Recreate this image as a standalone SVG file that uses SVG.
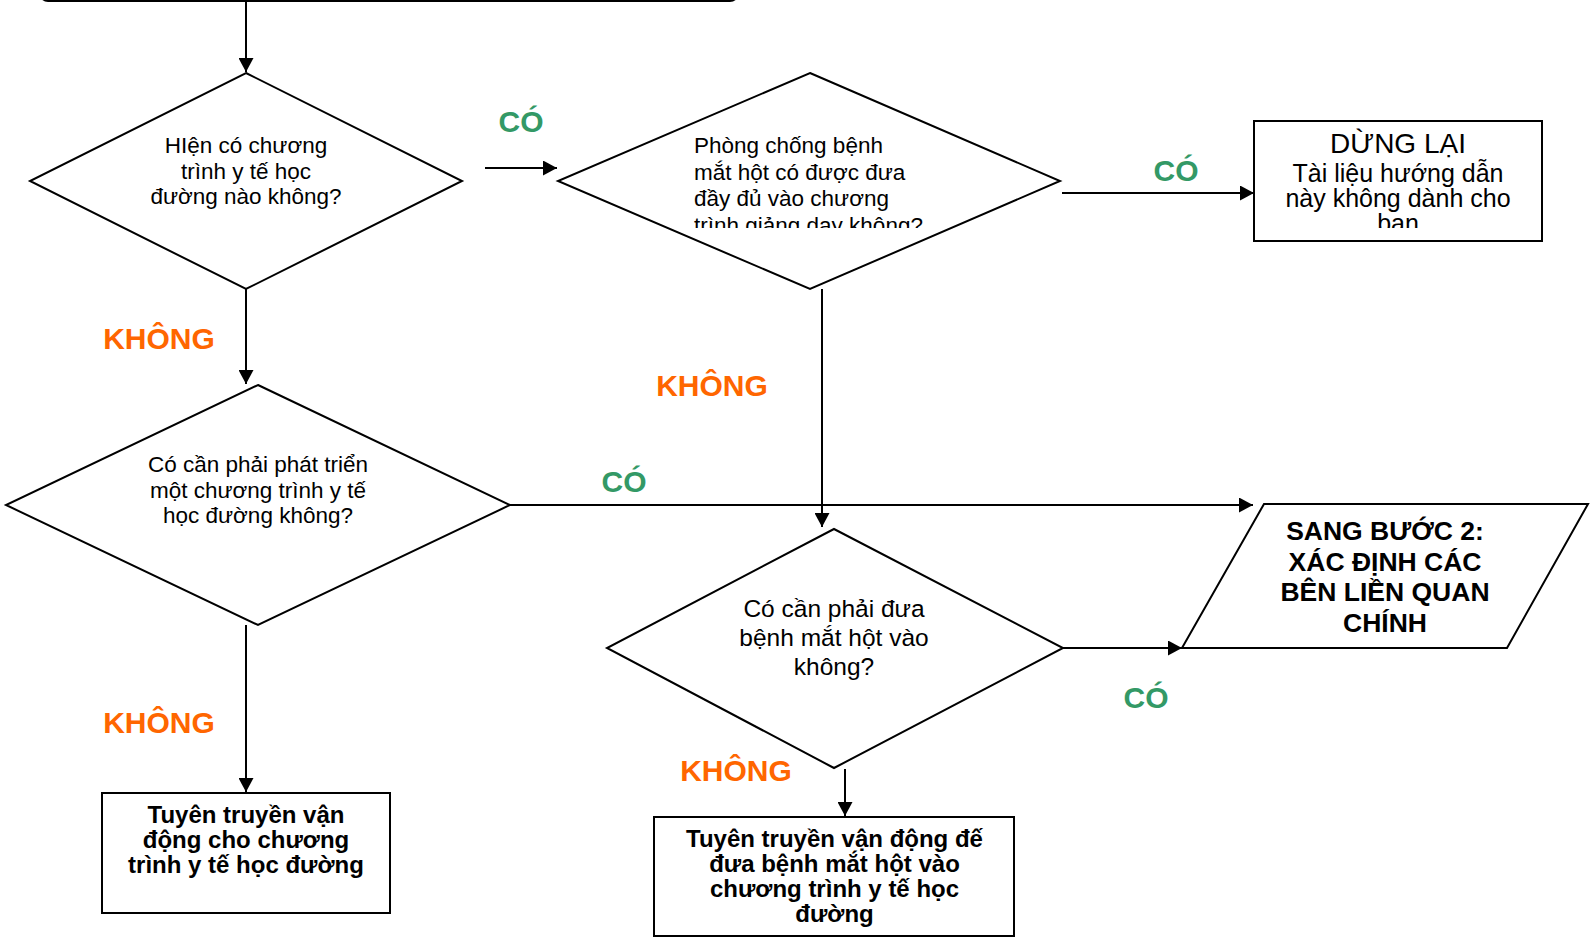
<svg xmlns="http://www.w3.org/2000/svg" width="1590" height="938" viewBox="0 0 1590 938">
<style>
.shape{fill:#fff;stroke:#000;stroke-width:2}
.conn{fill:none;stroke:#000;stroke-width:2}
.t{font-family:"Liberation Sans",Arial,sans-serif;fill:#000}
.q{font-size:22.5px}
.b{font-weight:bold}
.yes{font-family:"Liberation Sans",Arial,sans-serif;font-weight:bold;font-size:30px;fill:#339966;text-anchor:middle}
.no{font-family:"Liberation Sans",Arial,sans-serif;font-weight:bold;font-size:30px;fill:#FF6600;text-anchor:middle}
</style>
<defs>
<marker id="arr" markerUnits="userSpaceOnUse" markerWidth="15" markerHeight="15" refX="14" refY="7.5" orient="auto">
<path d="M0,0 L14,7.5 L0,15 z" fill="#000"/>
</marker>
<clipPath id="clipD2"><rect x="560" y="100" width="500" height="128"/></clipPath>
<clipPath id="clipStop"><rect x="1256" y="122" width="284" height="106"/></clipPath>
</defs>
<rect width="1590" height="938" fill="#fff"/>

<g id="top">
<rect class="shape" x="40" y="-60" width="698" height="61" rx="8"/>
</g>

<g id="d1">
<polygon class="shape" points="246,73 462,181 246,289 30,181"/>
<text class="t q" text-anchor="middle"><tspan x="246" y="153">HIện có chương</tspan><tspan x="246" y="179">trình y tế học</tspan><tspan x="246" y="204">đường nào không?</tspan></text>
</g>

<g id="d2">
<polygon class="shape" points="810,73 1060,181 810,289 558,181"/>
<text class="t q" clip-path="url(#clipD2)"><tspan x="694" y="153">Phòng chống bệnh</tspan><tspan x="694" y="179.5">mắt hột có được đưa</tspan><tspan x="694" y="206">đầy đủ vào chương</tspan><tspan x="694" y="232.5">trình giảng dạy không?</tspan></text>
</g>

<g id="stop">
<rect class="shape" x="1254" y="121" width="288" height="120"/>
<text class="t" text-anchor="middle" clip-path="url(#clipStop)"><tspan x="1398" y="153" font-size="28">DỪNG LẠI</tspan><tspan x="1398" y="181.5" font-size="25">Tài liệu hướng dẫn</tspan><tspan x="1398" y="206.5" font-size="25">này không dành cho</tspan><tspan x="1398" y="231.5" font-size="25">bạn</tspan></text>
</g>

<g id="d3">
<polygon class="shape" points="258,385 510,505 258,625 6,505"/>
<text class="t q" text-anchor="middle"><tspan x="258" y="472">Có cần phải phát triển</tspan><tspan x="258" y="498">một chương trình y tế</tspan><tspan x="258" y="523">học đường không?</tspan></text>
</g>

<g id="d4">
<polygon class="shape" points="834,529 1063,648 834,768 607,648"/>
<text class="t" font-size="24.5" text-anchor="middle"><tspan x="834" y="617">Có cần phải đưa</tspan><tspan x="834" y="646">bệnh mắt hột vào</tspan><tspan x="834" y="675">không?</tspan></text>
</g>

<g id="step2">
<polygon class="shape" points="1264,504 1588,504 1507,648 1182,648"/>
<text class="t b" font-size="26.5" text-anchor="middle"><tspan x="1385" y="540">SANG BƯỚC 2:</tspan><tspan x="1385" y="570.5">XÁC ĐỊNH CÁC</tspan><tspan x="1385" y="601">BÊN LIỀN QUAN</tspan><tspan x="1385" y="631.5">CHÍNH</tspan></text>
</g>

<g id="advocacy1">
<rect class="shape" x="102" y="793" width="288" height="120"/>
<text class="t b" font-size="24" text-anchor="middle"><tspan x="246" y="823">Tuyên truyền vận</tspan><tspan x="246" y="847.5">động cho chương</tspan><tspan x="246" y="872.5">trình y tế học đường</tspan></text>
</g>

<g id="advocacy2">
<rect class="shape" x="654" y="817" width="360" height="119"/>
<text class="t b" font-size="24" text-anchor="middle"><tspan x="834.5" y="846.5">Tuyên truyền vận động đế</tspan><tspan x="834.5" y="871.5">đưa bệnh mắt hột vào</tspan><tspan x="834.5" y="896.5">chương trình y tế học</tspan><tspan x="834.5" y="921.5">đường</tspan></text>
</g>

<g id="connectors">
<path class="conn" d="M246,1 V72" marker-end="url(#arr)"/>
<path class="conn" d="M485,168 H557" marker-end="url(#arr)"/>
<path class="conn" d="M1062,193 H1254" marker-end="url(#arr)"/>
<path class="conn" d="M246,289 V384" marker-end="url(#arr)"/>
<path class="conn" d="M822,289 V527" marker-end="url(#arr)"/>
<path class="conn" d="M510,505 H1253" marker-end="url(#arr)"/>
<path class="conn" d="M246,625 V792" marker-end="url(#arr)"/>
<path class="conn" d="M1063,648 H1182" marker-end="url(#arr)"/>
<path class="conn" d="M845,769 V816" marker-end="url(#arr)"/>
</g>

<g id="labels">
<text class="yes" x="521" y="132">CÓ</text>
<text class="yes" x="1176" y="181">CÓ</text>
<text class="yes" x="624" y="492">CÓ</text>
<text class="yes" x="1146" y="708">CÓ</text>
<text class="no" x="159" y="349">KHÔNG</text>
<text class="no" x="712" y="396">KHÔNG</text>
<text class="no" x="159" y="733">KHÔNG</text>
<text class="no" x="736" y="781">KHÔNG</text>
</g>
</svg>
